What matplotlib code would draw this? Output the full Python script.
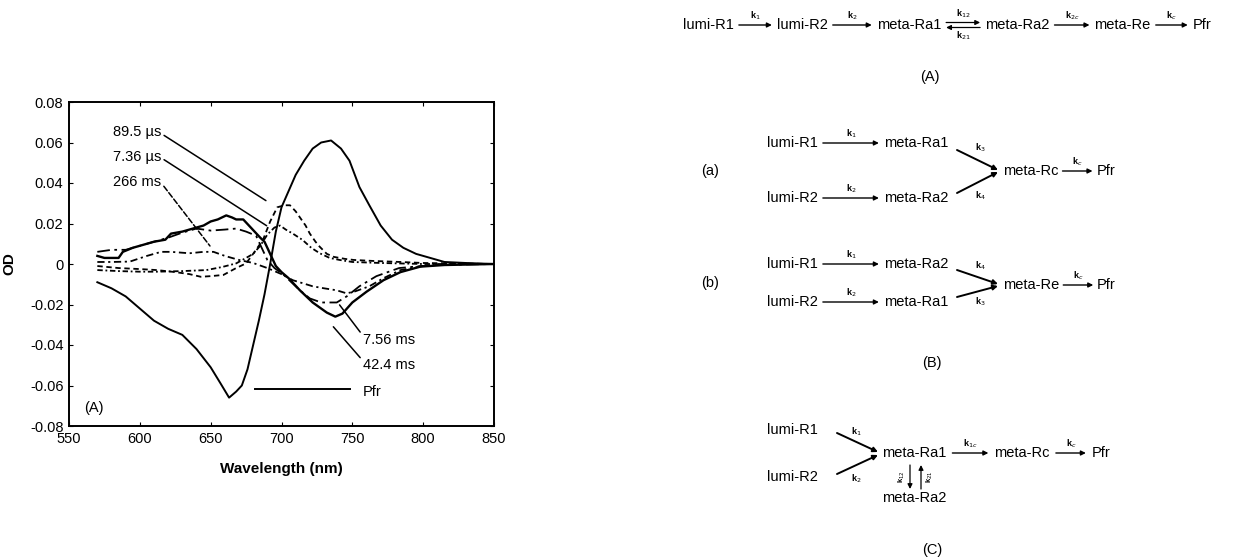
import matplotlib
matplotlib.use('Agg')
import matplotlib.pyplot as plt

plt.rcParams['font.family'] = ['Liberation Sans', 'DejaVu Sans']

# ---- spectra (wavelength nm, OD) ----
wl_pfr = [570, 580, 590, 600, 610, 620, 630, 640, 650, 657, 663, 668, 672, 676, 680, 684, 688, 692,
          696, 700, 705, 710, 716, 722, 728, 735, 742, 748, 755, 762, 770, 778, 786, 795, 805, 815, 830, 850]
od_pfr = [-0.009, -0.012, -0.016, -0.022, -0.028, -0.032, -0.035, -0.042, -0.051, -0.059, -0.066, -0.063,
          -0.060, -0.052, -0.040, -0.028, -0.015, 0.0, 0.016, 0.028, 0.036, 0.044, 0.051, 0.057, 0.060, 0.061,
          0.057, 0.051, 0.038, 0.029, 0.019, 0.012, 0.008, 0.005, 0.003, 0.001, 0.0005, 0.0]

wl_424 = [570, 575, 580, 585, 588, 595, 600, 610, 618, 622, 630, 640, 645, 650, 655, 661, 665, 668, 673,
          677, 681, 685, 688, 692, 696, 700, 705, 713, 722, 732, 738, 743, 750, 760, 772, 784, 798, 815, 850]
od_424 = [0.004, 0.003, 0.003, 0.003, 0.006, 0.008, 0.009, 0.011, 0.012, 0.015, 0.016, 0.018, 0.019, 0.021,
          0.022, 0.024, 0.023, 0.022, 0.022, 0.019, 0.016, 0.013, 0.011, 0.005, -0.001, -0.004, -0.007, -0.013,
          -0.019, -0.024, -0.026, -0.0245, -0.019, -0.0137, -0.008, -0.004, -0.0013, -0.0005, 0.0]

wl_756 = [570, 580, 590, 600, 610, 620, 630, 640, 650, 660, 668, 675, 682, 686, 690, 695, 701, 707, 713,
          720, 728, 739, 746, 755, 767, 783, 807, 850]
od_756 = [0.006, 0.007, 0.007, 0.009, 0.011, 0.013, 0.0155, 0.0175, 0.0165, 0.017, 0.0175, 0.016, 0.014,
          0.008, 0.002, -0.002, -0.005, -0.009, -0.013, -0.017, -0.019, -0.019, -0.016, -0.011, -0.006,
          -0.002, -0.0005, 0.0]

wl_266 = [570, 580, 593, 605, 615, 622, 635, 645, 652, 660, 670, 680, 690, 700, 708, 715, 722, 730, 739,
          746, 752, 762, 772, 784, 800, 820, 850]
od_266 = [0.001, 0.001, 0.0012, 0.004, 0.006, 0.006, 0.0053, 0.006, 0.006, 0.004, 0.002, 0.0005, -0.002,
          -0.005, -0.008, -0.0095, -0.011, -0.012, -0.013, -0.0145, -0.0135, -0.011, -0.007, -0.003, -0.001,
          0.0, 0.0]

wl_895 = [570, 585, 600, 612, 625, 635, 643, 650, 659, 668, 675, 681, 687, 692, 697, 702, 706, 710, 713,
          717, 720, 724, 727, 732, 737, 745, 751, 765, 784, 800, 850]
od_895 = [-0.001, -0.002, -0.0025, -0.003, -0.004, -0.005, -0.0063, -0.006, -0.0054, -0.002, 0.0003, 0.006,
          0.012, 0.021, 0.028, 0.029, 0.029, 0.026, 0.023, 0.019, 0.015, 0.011, 0.0085, 0.005, 0.0035, 0.0025,
          0.002, 0.0015, 0.001, 0.0005, 0.0]

wl_736 = [570, 585, 600, 612, 630, 647, 658, 668, 675, 680, 685, 690, 695, 699, 703, 708, 715, 721, 727,
          734, 741, 750, 770, 800, 850]
od_736 = [-0.003, -0.0035, -0.0038, -0.0038, -0.0035, -0.003, -0.0015, 0.0003, 0.003, 0.005, 0.009, 0.0145,
          0.018, 0.019, 0.017, 0.015, 0.0118, 0.008, 0.0053, 0.003, 0.002, 0.001, 0.0005, 0.0, 0.0]

xticks = [550, 600, 650, 700, 750, 800, 850]
yticks = [-0.08, -0.06, -0.04, -0.02, 0, 0.02, 0.04, 0.06, 0.08]
ytick_labels = ['-0.08', '-0.06', '-0.04', '-0.02', '0', '0.02', '0.04', '0.06', '0.08']

fig = plt.figure(figsize=(12.5, 5.59), dpi=100)

# overlay in pixel coordinates for the reaction schemes
sk = fig.add_axes([0, 0, 1, 1])
sk.set_xlim(0, 1250)
sk.set_ylim(559, 0)
sk.axis('off')

ax = fig.add_axes([69 / 1250, 1 - 426 / 559, 425 / 1250, 324 / 559])
ax.plot(wl_pfr, od_pfr, color='k', lw=1.4)
ax.plot(wl_424, od_424, color='k', lw=1.7)
ax.plot(wl_756, od_756, color='k', lw=1.3, linestyle=(0, (7, 2.5, 1.5, 2.5)))
ax.plot(wl_266, od_266, color='k', lw=1.3, linestyle=(0, (4, 2, 1.2, 2)))
ax.plot(wl_895, od_895, color='k', lw=1.3, linestyle=(0, (3, 2)))
ax.plot(wl_736, od_736, color='k', lw=1.3, linestyle=(0, (3, 1.5, 1, 1.5)))

ax.set_xlim(550, 850)
ax.set_ylim(-0.08, 0.08)
ax.set_xticks(xticks)
ax.set_yticks(yticks)
ax.set_yticklabels(ytick_labels)
ax.tick_params(direction='in', length=3, labelsize=10.5, right=True, top=True, pad=4)
for s in ax.spines.values():
    s.set_linewidth(1.4)
ax.set_xlabel('Wavelength (nm)', fontsize=11, fontweight='bold')
ax.set_ylabel('OD', fontsize=11, fontweight='bold')
ax.xaxis.set_label_coords(0.5, -0.11)
ax.yaxis.set_label_coords(-0.125, 0.5)

fs = 10.5
line = dict(arrowstyle='-', color='k', lw=1.1, shrinkA=0, shrinkB=0)
ax.annotate('89.5 \u00b5s', xy=(689, 0.0313), xytext=(581, 0.065), fontsize=fs, va='center',
            arrowprops=dict(line, relpos=(1.05, 0.3)))
ax.annotate('7.36 \u00b5s', xy=(689.5, 0.0189), xytext=(581, 0.053), fontsize=fs, va='center',
            arrowprops=dict(line, relpos=(1.05, 0.3)))
ax.annotate('266 ms', xy=(649.5, 0.0089), xytext=(581, 0.0407), fontsize=fs, va='center',
            arrowprops=dict(line, linestyle='--', relpos=(1.05, 0.2)))
ax.annotate('7.56 ms', xy=(741, -0.0202), xytext=(757.5, -0.0375), fontsize=fs, va='center',
            arrowprops=dict(line, relpos=(0, 0.8)))
ax.annotate('42.4 ms', xy=(736.6, -0.031), xytext=(757.5, -0.0499), fontsize=fs, va='center',
            arrowprops=dict(line, relpos=(0, 0.8)))
ax.plot([681, 748], [-0.0617, -0.0617], color='k', lw=1.4)
ax.text(757.5, -0.0633, 'Pfr', fontsize=fs, va='center')
ax.text(561, -0.071, '(A)', fontsize=fs, va='center')

# ---- reaction schemes ----
sfs = 10.5
kfs = 6.5
fig.canvas.draw()
rend = fig.canvas.get_renderer()


def arrow(x0, y0, x1, y1, lw=1.0):
    sk.annotate('', xy=(x1, y1), xytext=(x0, y0),
                arrowprops=dict(arrowstyle='-|>', color='k', lw=lw, mutation_scale=7,
                                shrinkA=0, shrinkB=0))


def klabel(x, y, s):
    sk.text(x, y, s, fontsize=kfs, ha='center', va='center', fontweight='bold')


def word(x, y, s):
    t = sk.text(x, y, s, fontsize=sfs, ha='left', va='center')
    return x + t.get_window_extent(rend).width


def chain(x, y, parts, gap=4):
    for p in parts:
        if isinstance(p, str):
            x = word(x, y, p) + gap
        elif p[0] == 'eq':
            L = p[1]
            arrow(x, y - 2.5, x + L, y - 2.5, lw=0.9)
            arrow(x + L, y + 2.5, x, y + 2.5, lw=0.9)
            klabel(x + L / 2, y - 11, p[2])
            klabel(x + L / 2, y + 11, p[3])
            x += L + gap
        else:
            L = p[0]
            arrow(x, y, x + L, y)
            klabel(x + L / 2, y - 9, p[1])
            x += L + gap
    return x


chain(683, 25, ['lumi-R1', (33, 'k$_1$'), 'lumi-R2', (39, 'k$_2$'), 'meta-Ra1',
                ('eq', 34, 'k$_{12}$', 'k$_{21}$'), 'meta-Ra2', (35, 'k$_{2c}$'), 'meta-Re',
                (32, 'k$_c$'), 'Pfr'], gap=5)
sk.text(930, 77, '(A)', fontsize=sfs, ha='center', va='center')

# (a)
sk.text(710, 171, '(a)', fontsize=sfs, ha='center', va='center')
chain(767, 143, ['lumi-R1', (56, 'k$_1$'), 'meta-Ra1'], gap=5)
chain(767, 198, ['lumi-R2', (56, 'k$_2$'), 'meta-Ra2'], gap=5)
arrow(957, 150, 998, 170, lw=1.4)
arrow(957, 193, 998, 172, lw=1.4)
klabel(980, 148, 'k$_3$')
klabel(980, 196, 'k$_4$')
chain(1003, 171, ['meta-Rc', (30, 'k$_c$'), 'Pfr'])

# (b)
sk.text(710, 283, '(b)', fontsize=sfs, ha='center', va='center')
chain(767, 264, ['lumi-R1', (56, 'k$_1$'), 'meta-Ra2'], gap=5)
chain(767, 302, ['lumi-R2', (56, 'k$_2$'), 'meta-Ra1'], gap=5)
arrow(957, 270, 998, 284, lw=1.4)
arrow(957, 297, 998, 286, lw=1.4)
klabel(980, 266, 'k$_4$')
klabel(980, 302, 'k$_3$')
chain(1003, 285, ['meta-Re', (30, 'k$_c$'), 'Pfr'])
sk.text(932, 363, '(B)', fontsize=sfs, ha='center', va='center')

# (C)
word(767, 430, 'lumi-R1')
word(767, 477, 'lumi-R2')
arrow(837, 433, 878, 452, lw=1.4)
arrow(837, 474, 878, 455, lw=1.4)
klabel(856, 432, 'k$_1$')
klabel(856, 479, 'k$_2$')
chain(882, 453, ['meta-Ra1', (36, 'k$_{1c}$'), 'meta-Rc', (30, 'k$_c$'), 'Pfr'], gap=6)
arrow(910, 465, 910, 489, lw=0.9)
arrow(921, 489, 921, 465, lw=0.9)
sk.text(902, 477, 'k$_{12}$', fontsize=kfs - 1, rotation=90, ha='center', va='center', fontweight='bold')
sk.text(930, 477, 'k$_{21}$', fontsize=kfs - 1, rotation=90, ha='center', va='center', fontweight='bold')
word(882, 498, 'meta-Ra2')
sk.text(932, 550, '(C)', fontsize=sfs, ha='center', va='center')

fig.savefig('out.png', dpi=100)
